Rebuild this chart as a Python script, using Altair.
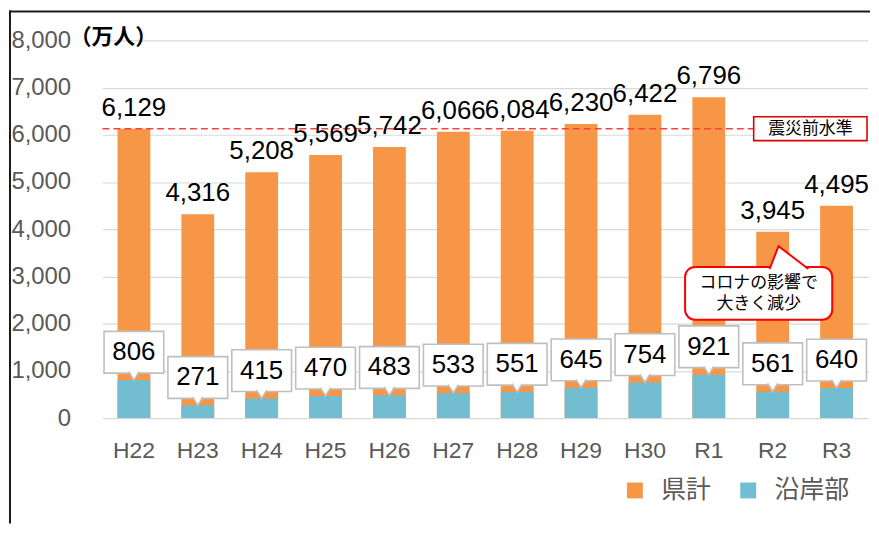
import altair as alt
import pandas as pd

# ---- data ----
years = ["H22", "H23", "H24", "H25", "H26", "H27", "H28", "H29", "H30", "R1", "R2", "R3"]
total = [6129, 4316, 5208, 5569, 5742, 6066, 6084, 6230, 6422, 6796, 3945, 4495]
coastal = [806, 271, 415, 470, 483, 533, 551, 645, 754, 921, 561, 640]
series_names = ["県計", "沿岸部"]
series_colors = ["#F79646", "#72BDD0"]
y_ticks = [0, 1000, 2000, 3000, 4000, 5000, 6000, 7000, 8000]
pre_quake_level = [6129]
pre_quake_label = ["震災前水準"]
covid_note = ["コロナの影響で\n大きく減少"]
unit_label = ["（万人）"]

wide = pd.DataFrame({"year": years, "total": total, "coastal": coastal})
long = pd.DataFrame({
    "year": years * 2,
    "value": total + coastal,
    "series": [series_names[0]] * len(years) + [series_names[1]] * len(years),
})
ref = pd.DataFrame({"v": pre_quake_level, "label": pre_quake_label})
note = pd.DataFrame({"t": covid_note})
unit = pd.DataFrame({"t": unit_label})

NUM_FONT = "Liberation Sans"
JP_FONT = "Noto Sans CJK JP"
W, H = 770, 380

xax = alt.Axis(title=None, ticks=False, domain=False, labelAngle=0, labelFont=NUM_FONT,
               labelFontSize=23, labelColor="#595959", labelPadding=22, grid=False)
yax = alt.Axis(title=None, values=y_ticks, format=",d", ticks=False, tickSize=0, domain=False,
               labelFont=NUM_FONT, labelFontSize=24, labelColor="#595959", labelPadding=32,
               gridColor="#D9D9D9", gridWidth=1.2, minExtent=94, maxExtent=94)
xs = alt.Scale(domain=years, paddingInner=0.065, paddingOuter=0.025)
ys = alt.Scale(domain=[0, 8000], nice=False, zero=True)

X = alt.X("year:N", sort=years, scale=xs, axis=xax)

color = alt.Color("series:N", scale=alt.Scale(domain=series_names, range=series_colors),
                  legend=alt.Legend(title=None, orient="none", legendX=523, legendY=440,
                                    direction="horizontal", symbolType="square", symbolSize=256,
                                    symbolStrokeWidth=0, labelFont=JP_FONT, labelFontSize=25,
                                    labelColor="#595959", labelOffset=14, columnPadding=24))

bars_total = alt.Chart(long).transform_filter(alt.datum.series == series_names[0]).mark_bar(width=33).encode(
    x=X, y=alt.Y("value:Q", scale=ys, axis=yax), color=color)
bars_coast = alt.Chart(long).transform_filter(alt.datum.series == series_names[1]).mark_bar(width=33).encode(
    x=X, y=alt.Y("value:Q", scale=ys, axis=yax), color=color)

ref_rule = alt.Chart(ref).mark_rule(color="#FF4040", strokeDash=[7, 4], strokeWidth=1.6).encode(
    y=alt.Y("v:Q", scale=ys, axis=yax), x=alt.value(0), x2=alt.value(655))
ref_box = alt.Chart(ref).mark_rect(fill="white", stroke="#E00000", strokeWidth=1.6,
                                   yOffset=-12, y2Offset=12).encode(
    y=alt.Y("v:Q", scale=ys, axis=yax), y2="v:Q", x=alt.value(655), x2=alt.value(769))
ref_text = alt.Chart(ref).mark_text(font=JP_FONT, fontSize=17, color="black", baseline="middle").encode(
    y=alt.Y("v:Q", scale=ys, axis=yax), x=alt.value(712), text="label:N")

total_text = alt.Chart(wide).mark_text(font=NUM_FONT, fontSize=26, color="black", dy=-21,
                                       baseline="middle").encode(
    x=X, y=alt.Y("total:Q", scale=ys, axis=yax), text=alt.Text("total:Q", format=",d"))

c_box = alt.Chart(wide).mark_rect(fill="white", stroke="#BFBFBF", strokeWidth=1.6,
                                  yOffset=-49, y2Offset=-7).encode(
    x=X, y=alt.Y("coastal:Q", scale=ys, axis=yax), y2="coastal:Q")
c_tail = alt.Chart(wide).mark_point(shape="M-1.3,-1.1 L0,1 L1.3,-1.1", size=64, filled=True,
                                    fill="white", stroke="#BFBFBF", strokeWidth=1.6, opacity=1,
                                    yOffset=-4).encode(
    x=X, y=alt.Y("coastal:Q", scale=ys, axis=yax))
c_text = alt.Chart(wide).mark_text(font=NUM_FONT, fontSize=26, color="black", dy=-28,
                                   baseline="middle").encode(
    x=X, y=alt.Y("coastal:Q", scale=ys, axis=yax), text=alt.Text("coastal:Q", format=",d"))

n_box = alt.Chart(note).mark_rect(fill="white", stroke="#FF0000", strokeWidth=2, cornerRadius=10).encode(
    x=alt.value(586), x2=alt.value(734), y=alt.value(228), y2=alt.value(281))
n_tail = alt.Chart(note).mark_point(shape="M-0.95,0.6 L-0.5,-0.55 L1,0.6", size=1600, filled=True,
                                    fill="white", stroke="#FF0000", strokeWidth=2, opacity=1).encode(
    x=alt.value(690), y=alt.value(218))
n_text = alt.Chart(note).mark_text(font=JP_FONT, fontSize=17, color="black", lineBreak="\n",
                                   lineHeight=21, baseline="middle").encode(
    x=alt.value(660), y=alt.value(244), text="t:N")

u_text = alt.Chart(unit).mark_text(font=JP_FONT, fontSize=22, fontWeight="bold", color="black",
                                   align="left", baseline="middle").encode(
    x=alt.value(-33), y=alt.value(-3), text="t:N")

frame_top = alt.Chart(unit).mark_rule(color="#1A1A1A", strokeWidth=2).encode(
    x=alt.value(-94), x2=alt.value(772), y=alt.value(-29))
frame_left = alt.Chart(unit).mark_rule(color="#1A1A1A", strokeWidth=2).encode(
    x=alt.value(-93), y=alt.value(-30), y2=alt.value(486))

chart = alt.layer(
    bars_total, bars_coast, ref_rule, ref_box, ref_text, total_text,
    c_box, c_tail, c_text, n_box, n_tail, n_text, u_text, frame_top, frame_left
).properties(
    width=W, height=H, background="white",
    padding={"left": 0, "top": 0, "right": 0, "bottom": 0},
).configure_view(stroke=None)

chart.save("out.html", embed_options={"renderer": "svg", "actions": False})
